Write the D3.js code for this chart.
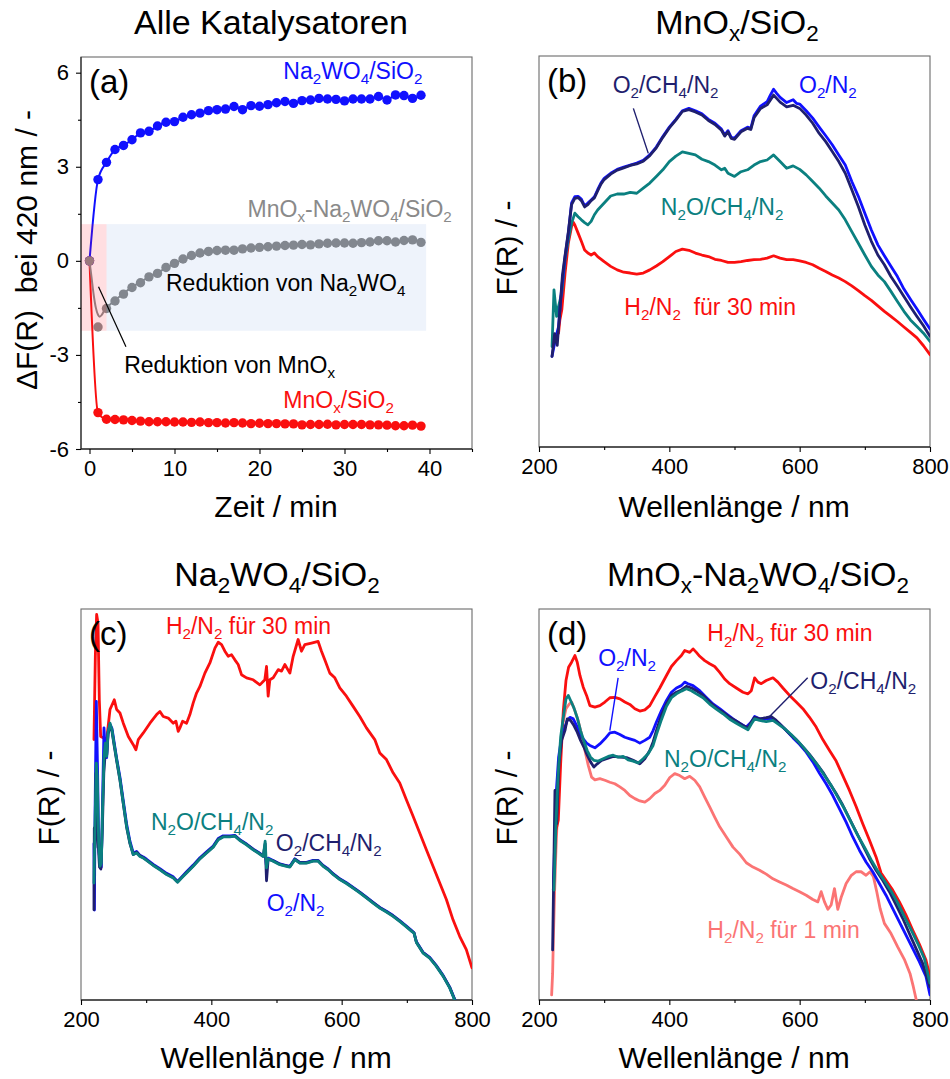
<!DOCTYPE html>
<html>
<head>
<meta charset="utf-8">
<script src="https://cdn.jsdelivr.net/npm/d3@7"></script>
<style>
  html, body { margin: 0; padding: 0; background: #fff; }
  svg text { font-family: "Liberation Sans", Arial, Helvetica, sans-serif; white-space: pre; }
</style>
</head>
<body>
<svg id="fig" width="950" height="1079"></svg>
<script>
// ---------- (a) ΔF(R) at 420 nm vs. time ----------
const timeMin = [0,1,2,3,4,5,6,7,8,9,10,11,12,13,14,15,16,17,18,19,20,21,22,23,24,25,26,27,28,29,30,31,32,33,34,35,36,37,38,39];
const dfNaW = [0,2.59,3.14,3.55,3.68,3.86,4.08,4.13,4.30,4.42,4.44,4.58,4.66,4.71,4.79,4.82,4.84,4.92,4.82,4.95,4.93,4.98,5.04,5.08,5.02,5.11,5.13,5.18,5.16,5.15,5.10,5.16,5.16,5.16,5.24,5.13,5.29,5.27,5.18,5.28];
const dfMn = [0,-4.84,-5.05,-5.06,-5.07,-5.09,-5.11,-5.13,-5.13,-5.13,-5.14,-5.14,-5.15,-5.14,-5.16,-5.16,-5.17,-5.16,-5.17,-5.19,-5.18,-5.19,-5.19,-5.20,-5.20,-5.23,-5.22,-5.22,-5.21,-5.23,-5.22,-5.22,-5.22,-5.23,-5.23,-5.24,-5.26,-5.26,-5.24,-5.27];
const dfMnNaW = [0,-2.11,-1.52,-1.28,-1.06,-0.85,-0.70,-0.51,-0.40,-0.21,-0.08,0.06,0.17,0.25,0.30,0.33,0.34,0.34,0.38,0.41,0.43,0.45,0.47,0.49,0.50,0.52,0.51,0.54,0.56,0.57,0.57,0.56,0.58,0.60,0.64,0.64,0.60,0.65,0.67,0.59];
// fitted trend for the combined catalyst
const fitMnNaW = [[0,0],[0.25,-0.55],[0.5,-1.1],[0.75,-1.5],[1.0,-1.72],[1.2,-1.78],[1.45,-1.72],[1.75,-1.58],[2,-1.5],[3,-1.26],[4,-1.04],[5,-0.84],[6,-0.67],[7,-0.52],[8,-0.38],[9,-0.23],[10,-0.09],[11,0.04],[12,0.14],[13,0.22],[14,0.28],[15,0.32],[17,0.37],[20,0.44],[25,0.52],[30,0.57],[35,0.62],[39,0.64]];
// shaded reduction windows [t0, t1, yLow, yHigh]
const zoneMn = [-1, 2, -2.23, 1.17];
const zoneNaW = [2, 39.6, -2.23, 1.17];
const timeTicks = [0,10,20,30,40];
const timeMinor = [5,15,25,35,45];
const dfTicks = [-6,-3,0,3,6];
const dfMinor = [-4.5,-1.5,1.5,4.5];
const wlTicks = [200,400,600,800];
const wlMinor = [300,500,700];

// ---------- (b) MnOx/SiO2 spectra [nm, F(R)] ----------
const bO2N2 = [[220,23.2],[225,27.4],[230,30.8],[235,41],[240,48.7],[245,54.7],[250,62.4],[255,64],[260,64.1],[265,63.4],[270,61.7],[275,62.4],[280,63.2],[285,64],[290,65.8],[295,67.5],[300,68.7],[310,70],[320,71],[330,71.6],[340,72.1],[350,72.6],[360,73.3],[370,74.7],[380,76.7],[390,79.4],[400,81.8],[410,83.8],[420,86],[430,86.6],[440,86],[450,85.2],[460,83.8],[470,82.8],[480,81.3],[485,79.8],[490,80.9],[495,79.2],[500,79],[510,80.9],[520,81.8],[525,81.5],[530,84.7],[540,87.2],[550,88.3],[555,90],[560,91.5],[565,90.4],[570,89.4],[580,88.1],[590,88.8],[595,87.9],[600,87.7],[610,86],[620,84.1],[630,81.8],[640,79.6],[650,77.3],[660,74.7],[670,72.1],[680,67.9],[690,64.1],[700,59.8],[710,55.5],[720,51.7],[730,48.9],[740,46.2],[750,43.6],[760,40.4],[770,37.8],[780,35.3],[790,32.7],[800,30.2]];
const bO2CH4N2 = [[220,23.2],[224,29],[228,26],[232,35],[236,44],[240,49],[245,55],[250,62],[255,63.6],[260,63.8],[265,63],[270,61.4],[275,62],[280,63],[285,63.7],[290,65.5],[295,67.2],[300,68.4],[310,69.8],[320,70.8],[330,71.4],[340,72],[350,72.4],[360,73.1],[370,74.5],[380,76.5],[390,79.2],[400,81.6],[410,83.6],[420,85.8],[430,86.3],[440,85.7],[450,84.9],[460,83.5],[470,82.5],[480,81],[485,79.5],[490,80.6],[495,78.9],[500,78.7],[510,80.6],[520,81.5],[525,81.2],[530,84.2],[540,86.6],[550,87.5],[560,90],[570,88.2],[580,87],[590,87.4],[600,86.6],[610,84.9],[620,82.8],[630,80.2],[640,78.1],[650,75.6],[660,73],[670,70],[680,65.8],[690,61.5],[700,56.8],[710,52.6],[720,49.1],[730,46.6],[740,43.6],[750,41.1],[760,38.5],[770,35.9],[780,33.4],[790,31],[800,28.3]];
const bN2OCH4N2 = [[220,25.7],[223,40.2],[227,33.4],[230,36],[235,39.4],[240,47.9],[245,53],[250,57.2],[255,59.8],[260,58.9],[265,58.1],[270,57.4],[275,56.8],[280,57.7],[285,59.4],[290,60.6],[300,62.4],[310,64.2],[320,64.7],[330,64.7],[340,65.1],[350,64.9],[360,66.2],[370,67.5],[380,69.2],[390,70.9],[400,73],[410,74.4],[420,75.5],[430,75.1],[440,74.7],[450,73.6],[460,73],[470,72.1],[480,70.9],[485,71.3],[490,70],[500,69.2],[510,70.4],[520,70.9],[530,72.1],[540,73],[550,73.4],[560,74.7],[570,73],[580,71.3],[590,71.9],[600,71],[610,69.6],[620,67.9],[630,66.2],[640,64.2],[650,62.4],[660,60.6],[670,58.1],[680,55.1],[690,52.1],[700,49.1],[710,46.2],[720,44],[730,42.3],[740,39.8],[750,37.2],[760,34.7],[770,32.5],[780,30.8],[790,29.1],[800,27]];
const bH2N2 = [[230,29.1],[232,32.5],[235,35.1],[240,44.5],[245,52.1],[250,56.4],[253,57.4],[255,56.8],[260,54.7],[265,52.6],[270,50.4],[275,49.6],[280,49.1],[285,49.6],[290,48.7],[300,47.4],[310,46.2],[320,45.3],[330,44.7],[340,44.5],[350,44.2],[360,44.5],[370,45.3],[380,46.3],[390,47.4],[400,48.7],[410,50],[420,50.6],[430,50.3],[440,49.6],[450,49.1],[460,48.7],[470,48],[480,47.7],[490,47.2],[500,47.2],[510,47.4],[520,47.7],[530,47.9],[540,48],[550,48.3],[560,48.9],[570,48.3],[580,47.9],[590,47.9],[600,47.6],[610,47.2],[620,46.6],[630,45.7],[640,44.9],[650,44],[660,43.2],[670,42.3],[680,41.2],[690,40],[700,38.7],[710,37.5],[720,36.1],[730,34.7],[740,33.4],[750,32.1],[760,30.7],[770,29.3],[780,27.9],[790,25.9],[800,23.6]];

// ---------- (c) Na2WO4/SiO2 spectra ----------
const cH2N2 = [[219.9,66.6],[222,87.9],[224,98.6],[226.1,96.4],[228.1,76.8],[230.2,67.4],[239.4,66.6],[244.5,74.3],[251.1,76.8],[254.7,74.3],[259.8,73.4],[264.9,70.8],[272.6,67.4],[280.2,65.3],[284.3,64],[287.9,66.6],[295.6,68.3],[305.8,70.8],[316,73],[321.1,73.8],[326.2,72.5],[333.9,72.1],[341.6,70.8],[345.7,71.3],[349.2,68.7],[351.8,69.6],[355.9,71.3],[362,70.8],[367.1,73],[372.2,76],[377.3,78.5],[382.5,80.2],[390.1,83.6],[397.8,86.2],[405.5,90],[410.6,91.5],[415.7,90.9],[420.8,89.2],[425.9,87.9],[431,88.3],[436.1,87],[441.2,85.8],[446.3,83.2],[454,82.4],[464.2,81.9],[474.5,80.6],[482.1,81.9],[484.7,85.3],[487.2,77.7],[489.8,81.9],[494.9,82.4],[502.6,84.5],[507.7,84.1],[512.8,85.8],[520.5,83.6],[525.6,87.9],[533.2,92.2],[538.3,89.2],[543.5,90.9],[553.7,91.3],[563.9,91.7],[569,89.2],[574.1,87],[581.8,83.6],[589.5,82.4],[597.1,79.8],[607.3,77.7],[617.6,75.1],[627.8,72.5],[638,69.6],[650.8,66.6],[658.5,63.2],[668.7,61.5],[678.9,58.1],[689.1,55.5],[699.3,51.2],[709.6,47],[719.8,42.7],[730,38.4],[740.2,34.2],[750.5,29.9],[760.7,25.7],[770.9,20.5],[781.1,16.3],[791.3,12.9],[800,8.2]];
const cO2N2 = [[219.9,40],[220.6,23],[221.5,47],[223.5,76.4],[225.5,58],[227.1,40],[229.1,34.5],[231.2,34],[233.2,52],[235.3,69.6],[237.3,63],[239.4,62],[241.4,68.5],[244.5,70.5],[247.5,69.5],[250.6,66.2],[254.7,61.8],[259.8,57],[264.9,51],[270,45],[275.1,40.6],[280.2,37.6],[285.3,38],[290.5,37],[295.6,36.6],[300.7,36],[310.9,34.7],[321.1,33.6],[331.3,32.4],[341.6,31.5],[348.2,30.3],[354.3,31.4],[362,32.8],[372.2,34.5],[382.5,36.4],[392.7,37.9],[402.9,39.4],[410.6,41.3],[418.2,42],[428.5,42],[436.1,42.1],[443.8,41],[454,39.9],[464.2,38.6],[471.9,37.8],[479.6,36.9],[482.6,38],[484.7,34],[487.2,36.3],[494.9,35.7],[505.1,34.8],[515.3,34.4],[520.5,34.2],[528.1,36.1],[535.8,35.2],[546,35.2],[556.2,35.7],[563.9,35.7],[571.6,34.4],[579.2,33.5],[586.9,32.3],[597.1,31],[607.3,30],[617.6,28.8],[627.8,27.6],[638,26.3],[648.2,25],[658.5,23.7],[668.7,22.7],[678.9,21.6],[689.1,20.3],[699.3,18.9],[707,17.8],[711,17.2],[714.7,14.9],[724.9,12.2],[735.1,10.9],[745.3,8.8],[755.6,6.3],[765.8,3.3],[773.4,0.2],[781.1,-2.7]];
const cO2CH4N2 = [[219.9,23.1],[220.4,44],[221.6,39],[223,58],[224.5,50],[226,41],[228.4,34],[230.5,33.5],[232.8,44],[235,58],[237.3,63.5],[239.6,62.8],[241.6,68],[244.5,70.2],[247.5,68.8],[250.6,65.4],[254.7,61.2],[259.8,56.2],[264.9,50.2],[270,44.2],[275.1,40],[280.2,37.2],[285.3,37.8],[290.5,36.9],[295.6,36.4],[300.7,35.8],[310.9,34.5],[321.1,33.4],[331.3,32.2],[341.6,31.3],[348.2,30.2],[354.3,31.3],[362,32.6],[372.2,34.3],[382.5,36.2],[392.7,37.7],[402.9,39.2],[410.6,41.1],[418.2,41.8],[428.5,41.8],[436.1,42],[443.8,40.9],[454,39.8],[464.2,38.5],[471.9,37.7],[479.6,36.8],[482.6,40],[484.7,30.5],[487.2,36],[494.9,35.6],[505.1,34.7],[515.3,34.3],[520.5,34.1],[528.1,36],[535.8,35.1],[546,35.1],[556.2,35.6],[563.9,35.6],[571.6,34.3],[579.2,33.4],[586.9,32.2],[597.1,30.9],[607.3,29.9],[617.6,28.7],[627.8,27.5],[638,26.2],[648.2,24.9],[658.5,23.6],[668.7,22.6],[678.9,21.5],[689.1,20.2],[699.3,18.8],[707,17.7],[711,17.2],[714.7,14.8],[724.9,12.1],[735.1,10.8],[745.3,8.7],[755.6,6.2],[765.8,3.2],[773.4,0.1],[781.1,-2.8]];
const cN2OCH4N2 = [[219.9,29.9],[221.5,45.3],[223.5,60.6],[225,57.2],[227.1,40.2],[229.1,34.2],[231.2,35],[233.2,49.5],[235.3,62.3],[237.3,65.7],[239.4,62.3],[241.4,68.3],[244.5,70.8],[247.5,69.1],[250.6,65.7],[254.7,61.5],[259.8,56.4],[264.9,50.4],[270,44.4],[275.1,40.2],[280.2,37.2],[285.3,37.6],[290.5,36.7],[295.6,36.3],[300.7,35.7],[310.9,34.4],[321.1,33.3],[331.3,32.1],[341.6,31.2],[348.2,30.1],[354.3,31.2],[362,32.5],[372.2,34.2],[382.5,36.1],[392.7,37.6],[402.9,39.1],[410.6,41],[418.2,41.7],[428.5,41.7],[436.1,41.9],[443.8,40.8],[454,39.7],[464.2,38.4],[471.9,37.6],[479.6,36.7],[482.6,40.6],[484.7,33.8],[487.2,36.1],[494.9,35.5],[505.1,34.6],[515.3,34.2],[520.5,34],[528.1,35.9],[535.8,35],[546,35],[556.2,35.5],[563.9,35.5],[571.6,34.2],[579.2,33.3],[586.9,32.1],[597.1,30.8],[607.3,29.8],[617.6,28.6],[627.8,27.4],[638,26.1],[648.2,24.8],[658.5,23.5],[668.7,22.5],[678.9,21.4],[689.1,20.1],[699.3,18.7],[707,17.6],[711,17.1],[714.7,14.7],[724.9,12],[735.1,10.7],[745.3,8.6],[755.6,6.1],[765.8,3.1],[773.4,0],[781.1,-2.9]];

// ---------- (d) MnOx-Na2WO4/SiO2 spectra ----------
const dH2N2_30 = [[222,28.1],[226,43.4],[229.6,46],[233.2,60.4],[237.3,74],[241.4,81.7],[245.4,85.1],[250,86.4],[255.1,88.1],[258.7,86.4],[262.8,83],[267.9,80],[273,77.9],[278.1,75.3],[285.8,74.9],[293.4,75.3],[301.1,76.2],[308.8,77.3],[316.4,77.4],[324.1,77],[331.7,76.2],[339.4,75.6],[347.1,74.5],[354.7,73.9],[362.4,74.2],[370,75.3],[377.7,77.6],[385.3,79.8],[395.6,83],[403.2,85.3],[410.9,86.8],[418.5,88.1],[423.6,89.4],[431.3,88.9],[436.4,89.8],[441.5,88.9],[446.6,87.9],[454.3,86.8],[461.9,86],[469.6,85.3],[477.3,83.8],[484.9,82.1],[492.6,80.9],[502.8,79.8],[513,78.7],[520.7,78.3],[525.8,79.1],[530.9,82.4],[536,81.3],[541.1,80.9],[548.7,81.7],[559,82.4],[566.6,81.3],[574.3,79.8],[584.5,77.9],[594.7,76.2],[604.9,74.5],[615.1,72.3],[625.3,69.8],[635.5,66.6],[645.8,63.8],[656,61.1],[666.2,57.4],[676.4,53.6],[686.6,49.5],[696.8,45.1],[707,40.9],[717.2,36.6],[724.9,32.5],[732.5,30.6],[742.8,28.1],[753,25.1],[763.2,21.7],[773.4,17.9],[783.6,14.3],[793.8,10.2],[800,6]];
const dO2N2 = [[222,28.1],[226,51.9],[230.1,62.1],[234.7,67.2],[239.8,69.8],[243.4,71.5],[247.5,72.3],[252.6,71.9],[257.7,70.2],[262.8,68.1],[267.9,66.8],[273,65.7],[278.1,65.1],[285.8,64.5],[293.4,65.5],[301.1,66.8],[308.8,68.3],[316.4,68.5],[324.1,67.9],[331.7,67.2],[339.4,66.8],[347.1,66.4],[354.7,65.7],[362.4,66.4],[370,67.2],[375.1,68.9],[380.2,71.1],[387.9,74],[395.6,76.6],[403.2,78.7],[410.9,79.8],[418.5,80.4],[423.6,81.3],[428.7,80.9],[436.4,80.4],[446.6,79.1],[456.8,77.4],[467,75.7],[477.3,74.5],[487.5,73.2],[497.7,71.9],[507.9,70.8],[518.1,69.8],[525.8,71.1],[530.9,72.5],[538.5,71.9],[548.7,71.9],[559,71.9],[569.2,70.6],[579.4,68.9],[589.6,67.1],[599.8,65.4],[610,63.4],[620.2,60.9],[630.4,58],[640.6,55.3],[650.9,52.3],[661.1,48.9],[671.3,45.5],[681.5,41.7],[691.7,38.3],[701.9,35.3],[712.1,32.8],[722.3,29.8],[732.5,26.8],[742.8,23.4],[753,20],[763.2,16.6],[773.4,13.2],[783.6,9.8],[793.8,6],[800,1.3]];
const dO2CH4N2 = [[220.9,12.8],[223,36.6],[224.5,53.6],[227.1,45.1],[230.6,60.4],[234.7,66.4],[239.8,68.9],[243.4,71.9],[248.5,71.5],[253.6,70.2],[258.7,68.5],[263.8,66.4],[268.9,64.7],[274,62.6],[279.1,60.9],[284.2,59.6],[289.4,60.4],[296,61.3],[303.7,61.7],[313.9,62.3],[324.1,62.1],[334.3,62],[344.5,61.3],[354.7,60.4],[362.4,61.7],[370,63.8],[375.1,66],[380.2,68.9],[387.9,72.8],[395.6,75.7],[403.2,77.9],[410.9,78.7],[418.5,79.3],[426.2,80.2],[433.9,79.8],[441.5,79.1],[451.7,77.9],[461.9,76.2],[472.1,74.7],[482.4,73.6],[492.6,72.3],[502.8,71.3],[513,70.2],[520.7,69.6],[525.8,71.1],[530.9,72.3],[538.5,71.9],[548.7,72.2],[556.4,72.5],[564,71.5],[574.3,69.8],[584.5,68.1],[594.7,66.6],[604.9,64.7],[615.1,62.8],[625.3,60.6],[635.5,58.3],[645.8,55.5],[656,52.8],[666.2,49.8],[676.4,46.4],[686.6,43],[696.8,39.6],[707,36.2],[717.2,33.2],[727.4,30.6],[737.7,27.7],[747.9,24.3],[758.1,20.9],[768.3,17],[778.5,13.2],[788.7,9.4],[800,3.4]];
const dN2OCH4N2 = [[223,28.1],[226,45.1],[229.1,57],[233.2,67.2],[237.3,72.3],[241.4,77],[244.9,77.9],[248.5,76.6],[253.6,74.7],[258.7,72.2],[263.8,68.9],[268.9,66.2],[274,63.8],[279.1,62.1],[284.2,61.3],[290.9,61.1],[298.5,61.7],[306.2,62.3],[313.9,62.6],[321.5,62.1],[329.2,62.3],[336.8,61.4],[344.5,61.1],[352.2,60.6],[359.8,61.7],[367.5,63],[375.1,65.1],[380.2,67.9],[387.9,71.7],[395.6,75.1],[403.2,77.3],[410.9,78.3],[418.5,79],[426.2,79.6],[433.9,79.1],[441.5,78.3],[451.7,77.3],[461.9,75.7],[472.1,74.4],[482.4,73.2],[492.6,71.8],[502.8,70.8],[513,69.8],[520.7,69.1],[525.8,70.6],[530.9,71.9],[538.5,71.5],[548.7,71.2],[559,71.5],[566.6,70.6],[576.8,69.4],[587,67.9],[597.3,66.2],[607.5,64.3],[617.7,62.1],[627.9,60],[638.1,57.4],[648.3,54.9],[658.5,51.9],[668.7,48.9],[678.9,45.5],[689.2,42.1],[699.4,39.1],[709.6,35.9],[719.8,33],[730,30.5],[740.2,27.9],[750.4,24.9],[760.6,21.4],[770.9,18],[781.1,14.5],[791.3,10.6],[800,4.3]];
const dH2N2_1 = [[219.4,1.3],[220.9,6.8],[222,15.3],[224,28.1],[226,38.3],[228.1,46.8],[232.2,62.1],[236.3,70.6],[241.4,74.5],[246.5,75.7],[250,76.2],[255.1,74],[260.3,71.3],[265.4,67.9],[270.5,63.8],[275.6,60],[280.7,57],[285.8,56.3],[293.4,56.6],[301.1,56.2],[308.8,55.7],[316.4,55.3],[324.1,54.5],[331.7,53.6],[339.4,52.3],[347.1,51.5],[354.7,50.9],[362.4,50.6],[370,51.5],[377.7,52.8],[385.3,53.6],[393,54.9],[400.7,56.9],[408.3,57.9],[416,57.4],[423.6,56.6],[431.3,57.2],[439,56.2],[446.6,54.5],[454.3,51.9],[461.9,49.4],[469.6,46.8],[477.3,44.3],[487.5,41.7],[497.7,39.1],[507.9,37.3],[518.1,35.1],[528.3,34],[538.5,33.2],[548.7,32.2],[559,31],[569.2,30.2],[579.4,29.4],[589.6,28.5],[599.8,27.7],[610,26.8],[620.2,25.7],[627.9,25.1],[633,27.7],[638.1,25.1],[643.2,23.2],[648.3,24.3],[653.4,28.5],[658.5,23.2],[663.6,26.2],[671.3,29.8],[678.9,31.8],[686.6,32.8],[694.3,32.8],[701.9,31.9],[708,32.8],[713.2,31.5],[718.3,27.7],[723.4,23.4],[730,19.6],[740.2,17],[750.4,13.6],[760.6,10.4],[769.3,6.8],[774.4,3.4],[779.5,-0.4]];

// ---------- colours ----------
const C = {
  blue: "#1010ff",
  navy: "#1f1f6e",
  teal: "#0b8080",
  red: "#fa0f0f",
  pink: "#fb7474",
  gray: "#8a8a8a",
  black: "#000"
};

const svg = d3.select("#fig");
svg.append("rect").attr("width", 950).attr("height", 1079).attr("fill", "#fff");

// text with single-character subscripts written as _x
function rich(parent, str, size, x, y, opts = {}) {
  const t = parent.append("text")
    .attr("x", x).attr("y", y)
    .attr("font-size", size)
    .attr("fill", opts.fill || "#000")
    .attr("text-anchor", opts.anchor || "start");
  if (opts.transform) t.attr("transform", opts.transform);
  const sub = size * 0.22;
  let shifted = false;
  str.split(/(_.)/).forEach(p => {
    if (!p) return;
    if (p[0] === "_") {
      t.append("tspan").attr("font-size", size * 0.66).attr("dy", shifted ? 0 : sub).text(p.slice(1));
      shifted = true;
    } else {
      const ts = t.append("tspan").text(p);
      if (shifted) { ts.attr("dy", -sub); shifted = false; }
    }
  });
  return t;
}

let clipId = 0;
function makePanel(box, xDom, yDom) {
  const g = svg.append("g");
  const x = d3.scaleLinear().domain(xDom).range([box.x, box.x + box.w]);
  const y = d3.scaleLinear().domain(yDom).range([box.y + box.h, box.y]);
  const id = "clip" + (clipId++);
  svg.append("clipPath").attr("id", id)
    .append("rect").attr("x", box.x).attr("y", box.y).attr("width", box.w).attr("height", box.h);
  // frame
  g.append("rect").attr("x", box.x).attr("y", box.y).attr("width", box.w).attr("height", box.h)
    .attr("fill", "none").attr("stroke", "#6b6b6b").attr("stroke-width", 1.1);
  g.append("line").attr("x1", box.x).attr("x2", box.x + box.w)
    .attr("y1", box.y + box.h).attr("y2", box.y + box.h)
    .attr("stroke", "#000").attr("stroke-width", 1.2);
  const plot = g.append("g").attr("clip-path", `url(#${id})`);
  return { g, plot, x, y, box };
}

function styleAxis(sel, size) {
  sel.attr("font-family", '"Liberation Sans", Arial, sans-serif').attr("font-size", size);
  sel.select(".domain").remove();
  sel.selectAll(".tick line").attr("stroke", "#000").attr("stroke-width", 1.1);
  sel.selectAll(".tick text").attr("fill", "#000");
}

function bottomAxis(p, major, minor) {
  const yb = p.box.y + p.box.h;
  p.g.append("g").attr("transform", `translate(0,${yb})`)
    .call(d3.axisBottom(p.x).tickValues(major).tickSize(5).tickSizeOuter(0).tickPadding(6).tickFormat(d => String(d)))
    .call(s => styleAxis(s, 22));
  p.g.append("g").attr("transform", `translate(0,${yb})`)
    .call(d3.axisBottom(p.x).tickValues(minor).tickSize(3).tickSizeOuter(0).tickFormat(""))
    .call(s => styleAxis(s, 22));
}

const lineGen = (p) => d3.line().x(d => p.x(d[0])).y(d => p.y(d[1]));

function curve(p, data, color, w = 2.8) {
  p.plot.append("path").datum(data)
    .attr("d", lineGen(p))
    .attr("fill", "none").attr("stroke", color).attr("stroke-width", w)
    .attr("stroke-linejoin", "round").attr("stroke-linecap", "round");
}

function leader(p, a, b, color, w) {
  p.g.append("line")
    .attr("x1", p.x(a[0])).attr("y1", p.y(a[1]))
    .attr("x2", p.x(b[0])).attr("y2", p.y(b[1]))
    .attr("stroke", color).attr("stroke-width", w);
}

function label(p, str, pos, color, size = 23) {
  rich(p.g, str, size, p.x(pos[0]), p.y(pos[1]), { fill: color });
}

function panelLetter(p, s) {
  p.g.append("text").attr("x", p.box.x + 8).attr("y", p.box.y + 36)
    .attr("font-size", 33).attr("fill", "#000").text(s);
}

function yTitle(str, x, yc, size = 30) {
  rich(svg, str, size, 0, 0, { anchor: "middle", transform: `translate(${x},${yc}) rotate(-90)` });
}

// ================= panel (a) =================
const A = makePanel({ x: 81, y: 57, w: 391, h: 392 }, [-1, 45], [-6, 6.5]);
// left axis line drawn dark
A.g.append("line").attr("x1", A.box.x).attr("x2", A.box.x).attr("y1", A.box.y).attr("y2", A.box.y + A.box.h)
  .attr("stroke", "#222").attr("stroke-width", 1.1);
bottomAxis(A, timeTicks, timeMinor);
A.g.append("g").attr("transform", `translate(${A.box.x},0)`)
  .call(d3.axisLeft(A.y).tickValues(dfTicks).tickSize(5).tickSizeOuter(0).tickPadding(7).tickFormat(d => String(d)))
  .call(s => styleAxis(s, 22));
A.g.append("g").attr("transform", `translate(${A.box.x},0)`)
  .call(d3.axisLeft(A.y).tickValues(dfMinor).tickSize(3).tickSizeOuter(0).tickFormat(""))
  .call(s => styleAxis(s, 22));

const MARK_R = 4.7;
const series = [
  { t: timeMin, v: dfMn, color: C.red },
  { t: timeMin, v: dfNaW, color: C.blue }
];
series.forEach(s => {
  const pts = s.t.map((t, i) => [t, s.v[i]]);
  A.plot.append("path").datum(pts)
    .attr("d", lineGen(A).curve(d3.curveMonotoneX))
    .attr("fill", "none").attr("stroke", s.color).attr("stroke-width", 2);
  A.plot.selectAll(null).data(pts).enter().append("circle")
    .attr("cx", d => A.x(d[0])).attr("cy", d => A.y(d[1])).attr("r", MARK_R).attr("fill", s.color);
});
A.plot.append("path").datum(fitMnNaW)
  .attr("d", lineGen(A).curve(d3.curveMonotoneX))
  .attr("fill", "none").attr("stroke", C.gray).attr("stroke-width", 2);
A.plot.selectAll(null).data(timeMin.map((t, i) => [t, dfMnNaW[i]])).enter().append("circle")
  .attr("cx", d => A.x(d[0])).attr("cy", d => A.y(d[1])).attr("r", MARK_R).attr("fill", C.gray);

// translucent reduction windows laid over the data
[[zoneMn, "rgba(255,20,40,0.14)"], [zoneNaW, "rgba(43,105,205,0.08)"]].forEach(([z, col]) => {
  A.plot.append("rect")
    .attr("x", A.x(z[0])).attr("width", A.x(z[1]) - A.x(z[0]))
    .attr("y", A.y(z[3])).attr("height", A.y(z[2]) - A.y(z[3]))
    .attr("fill", col);
});
leader(A, [1.06, -0.83], [4.29, -2.74], "#000", 1.2);
panelLetter(A, "(a)");
label(A, "Na_2WO_4/SiO_2", [22.8, 5.8], C.blue);
label(A, "MnO_x-Na_2WO_4/SiO_2", [18.6, 1.4], C.gray);
label(A, "MnO_x/SiO_2", [22.8, -4.7], C.red);
label(A, "Reduktion von Na_2WO_4", [9.0, -0.96], "#000");
label(A, "Reduktion von MnO_x", [4.08, -3.58], "#000");

// ================= panel (b) =================
const B = makePanel({ x: 539, y: 56, w: 391, h: 391 }, [200, 800], [0, 100]);
bottomAxis(B, wlTicks, wlMinor);
curve(B, bH2N2, C.red);
curve(B, bN2OCH4N2, C.teal);
curve(B, bO2N2, C.blue);
curve(B, bO2CH4N2, C.navy);
panelLetter(B, "(b)");
leader(B, [344.8, 86.6], [367.7, 75.1], C.navy, 1.4);
label(B, "O_2/CH_4/N_2", [313, 90.5], C.navy);
label(B, "O_2/N_2", [599, 90.5], C.blue);
label(B, "N_2O/CH_4/N_2", [387, 59.3], C.teal);
label(B, "H_2/N_2  für 30 min", [331, 33.7], C.red);

// ================= panel (c) =================
const Cp = makePanel({ x: 81, y: 609, w: 391, h: 391 }, [200, 800], [0, 100]);
bottomAxis(Cp, wlTicks, wlMinor);
panelLetter(Cp, "(c)");
curve(Cp, cH2N2, C.red);
curve(Cp, cO2N2, C.blue);
curve(Cp, cO2CH4N2, C.navy);
curve(Cp, cN2OCH4N2, C.teal);
label(Cp, "H_2/N_2 für 30 min", [330.3, 93.6], C.red);
label(Cp, "N_2O/CH_4/N_2", [307.3, 43.6], C.teal);
label(Cp, "O_2/CH_4/N_2", [498.9, 38], C.navy);
label(Cp, "O_2/N_2", [485, 22.7], C.blue);

// ================= panel (d) =================
const D = makePanel({ x: 539, y: 609, w: 391, h: 391 }, [200, 800], [0, 100]);
bottomAxis(D, wlTicks, wlMinor);
panelLetter(D, "(d)");
curve(D, dH2N2_1, C.pink);
curve(D, dH2N2_30, C.red);
curve(D, dO2N2, C.blue);
curve(D, dO2CH4N2, C.navy);
curve(D, dN2OCH4N2, C.teal);
leader(D, [321.4, 82.4], [308.7, 68.9], C.blue, 1.4);
leader(D, [612.3, 82.4], [552.7, 72.3], C.navy, 1.4);
label(D, "H_2/N_2 für 30 min", [458.3, 91.7], C.red);
label(D, "O_2/N_2", [290.8, 85.5], C.blue);
label(D, "O_2/CH_4/N_2", [616.4, 79.6], C.navy);
label(D, "N_2O/CH_4/N_2", [391.8, 59.6], C.teal);
label(D, "H_2/N_2 für 1 min", [458.3, 15.8], C.pink);

// ================= titles and axis titles =================
rich(svg, "Alle Katalysatoren", 34, 271, 34, { anchor: "middle" });
rich(svg, "MnO_x/SiO_2", 34, 737, 34, { anchor: "middle" });
rich(svg, "Na_2WO_4/SiO_2", 34, 277, 586, { anchor: "middle" });
rich(svg, "MnO_x-Na_2WO_4/SiO_2", 34, 758, 586, { anchor: "middle" });

rich(svg, "Zeit / min", 30, 276, 517, { anchor: "middle" });
rich(svg, "Wellenlänge / nm", 30, 734, 517, { anchor: "middle" });
rich(svg, "Wellenlänge / nm", 30, 276, 1068, { anchor: "middle" });
rich(svg, "Wellenlänge / nm", 30, 734, 1068, { anchor: "middle" });

yTitle("ΔF(R)  bei 420 nm / -", 36.5, 250);
yTitle("F(R) / -", 517, 248);
yTitle("F(R) / -", 59, 798);
yTitle("F(R) / -", 517, 798);
</script>
</body>
</html>
